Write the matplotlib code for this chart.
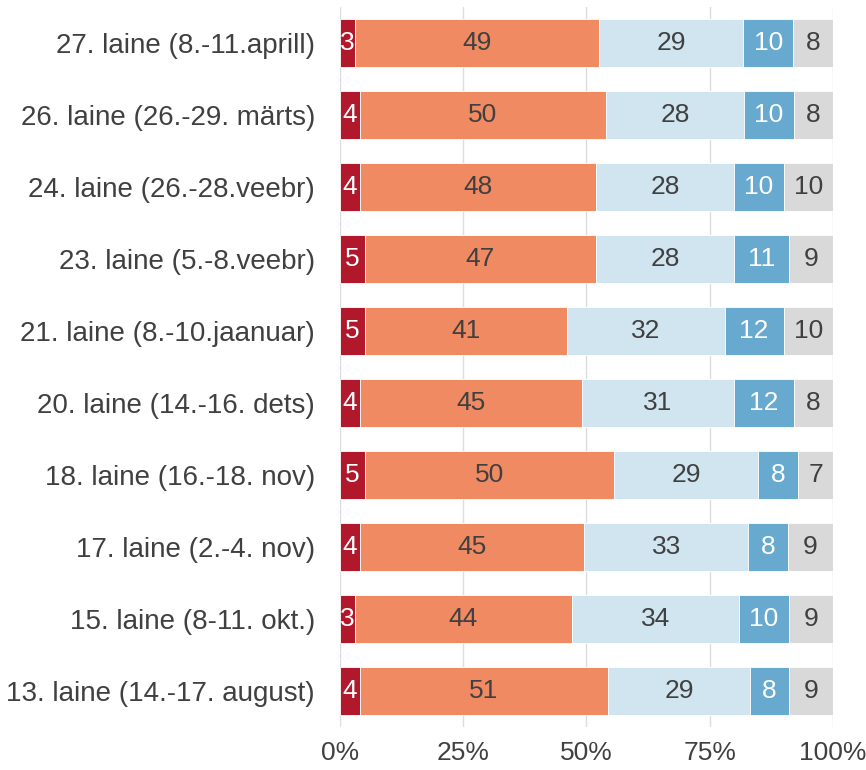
import matplotlib

matplotlib.use("Agg")
import matplotlib.pyplot as plt
import numpy as np

plt.rcParams["font.family"] = ["Liberation Sans", "DejaVu Sans"]

# survey waves, top to bottom
waves = [
    "27. laine (8.-11.aprill)",
    "26. laine (26.-29. märts)",
    "24. laine (26.-28.veebr)",
    "23. laine (5.-8.veebr)",
    "21. laine (8.-10.jaanuar)",
    "20. laine (14.-16. dets)",
    "18. laine (16.-18. nov)",
    "17. laine (2.-4. nov)",
    "15. laine (8-11. okt.)",
    "13. laine (14.-17. august)",
]
s1 = [3, 4, 4, 5, 5, 4, 5, 4, 3, 4]
s2 = [49, 50, 48, 47, 41, 45, 50, 45, 44, 51]
s3 = [29, 28, 28, 28, 32, 31, 29, 33, 34, 29]
s4 = [10, 10, 10, 11, 12, 12, 8, 8, 10, 8]
s5 = [8, 8, 10, 9, 10, 8, 7, 9, 9, 9]
x_ticks = [0, 25, 50, 75, 100]
x_tick_labels = ["0%", "25%", "50%", "75%", "100%"]

series = [s1, s2, s3, s4, s5]
colors = ["#B2182B", "#EF8A62", "#D1E5F0", "#67A9CF", "#D9D9D9"]
text_colors = ["white", "#404040", "#404040", "white", "#404040"]
text_color = "#404040"

values = np.array(series, dtype=float)
shares = values / values.sum(axis=0) * 100
positions = np.arange(len(waves))

fig = plt.figure(figsize=(8.66, 7.7), dpi=100)
ax = fig.add_axes([0.3926, 0.0558, 0.5693, 0.9351])

left = np.zeros(len(waves))
for vals, share, color, tcolor in zip(series, shares, colors, text_colors):
    ax.barh(positions, share, left=left, height=0.667, color=color, edgecolor="white", linewidth=0.6, zorder=2)
    for pos, v, s, l in zip(positions, vals, share, left):
        ax.text(l + s / 2, pos, f"{v}", ha="center", va="center", fontsize=19, color=tcolor, zorder=3)
    left += share

ax.set_xlim(0, 100)
ax.set_ylim(len(waves) - 0.5, -0.5)
ax.set_yticks(positions)
ax.set_yticklabels(waves, fontsize=20, color=text_color)
ax.set_xticks(x_ticks)
ax.set_xticklabels(x_tick_labels, fontsize=19, color=text_color)
ax.tick_params(axis="y", length=0, pad=18)
ax.tick_params(axis="x", length=0, pad=10)
ax.grid(axis="x", color="#DDDDDD", linewidth=1.0, zorder=0)
ax.set_axisbelow(True)
for spine in ax.spines.values():
    spine.set_visible(False)

fig.savefig("out.png", dpi=100, facecolor="white")
